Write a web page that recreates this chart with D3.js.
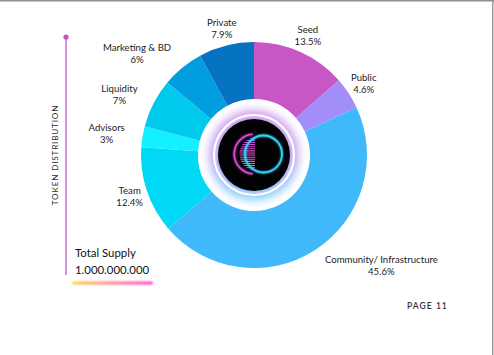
<!DOCTYPE html>
<html><head><meta charset="utf-8">
<script src="https://cdn.jsdelivr.net/npm/d3@7"></script>
<style>html,body{margin:0;padding:0;background:#fff;}svg{display:block;}</style>
</head><body>
<script>
// ---- data ----
const categories = ["Seed","Public","Community/ Infrastructure","Team","Advisors","Liquidity","Marketing & BD","Private"];
const values = [13.5, 4.6, 45.6, 12.4, 3, 7, 6, 7.9];
const valueLabels = ["13.5%","4.6%","45.6%","12.4%","3%","7%","6%","7.9%"];
const colors = ["#c857c6","#a18ef8","#40b9fa","#00d9f5","#14f0ff","#00c9ee","#009ee0","#0573c2"];
const labelAnchor = ["middle","middle","start","middle","end","end","end","middle"];
const sideTitle = "TOKEN DISTRIBUTION";
const supplyTitle = "Total Supply";
const supplyValue = "1.000.000.000";
const pageLabel = "PAGE 11";

const W = 494, H = 355;
const cx = 254, cy = 155, rOuter = 113, rInner = 56, rLabel = 131;
const font = "Lato, 'Open Sans', sans-serif";

const svg = d3.select("body").append("svg").attr("width", W).attr("height", H);
const defs = svg.append("defs");

svg.append("rect").attr("width", W).attr("height", H).attr("fill", "#fff");
// borders
svg.append("rect").attr("x",0).attr("y",0).attr("width",W).attr("height",1.5).attr("fill","#8b909a");
svg.append("rect").attr("x",492).attr("y",0).attr("width",1.5).attr("height",H).attr("fill","#9a9a9a");

// pie
const pie = d3.pie().sort(null).value(d => d)(values);
const arc = d3.arc().innerRadius(rInner).outerRadius(rOuter);
const labelArc = d3.arc().innerRadius(rLabel).outerRadius(rLabel);
const g = svg.append("g").attr("transform", `translate(${cx},${cy})`);
g.selectAll("path.slice").data(pie).join("path").attr("class","slice")
  .attr("d", arc).attr("fill", (d,i) => colors[i]);

// centre decoration
const glowF = defs.append("filter").attr("id","blur4").attr("x","-50%").attr("y","-50%").attr("width","200%").attr("height","200%");
glowF.append("feGaussianBlur").attr("stdDeviation", 4);
const lg = defs.append("linearGradient").attr("id","glowGrad").attr("x1",0).attr("y1",0).attr("x2",0).attr("y2",1);
lg.append("stop").attr("offset","0%").attr("stop-color","#c98ae8");
lg.append("stop").attr("offset","55%").attr("stop-color","#b79af0");
lg.append("stop").attr("offset","100%").attr("stop-color","#5ccaff");
g.append("circle").attr("r", 45).attr("fill","url(#glowGrad)").attr("filter","url(#blur4)").attr("opacity",0.85);
g.append("circle").attr("r", 40).attr("fill","none").attr("stroke","#ffffff").attr("stroke-width",2.2);
g.append("circle").attr("r", 38.3).attr("fill","none").attr("stroke","#d6c9f4").attr("stroke-width",1);
g.append("circle").attr("r", 36).attr("fill","#020104");

// logo
const neon = defs.append("filter").attr("id","neon").attr("x","-50%").attr("y","-50%").attr("width","200%").attr("height","200%");
neon.append("feGaussianBlur").attr("stdDeviation",1).attr("result","b");
const m = neon.append("feMerge"); m.append("feMergeNode").attr("in","b"); m.append("feMergeNode").attr("in","SourceGraphic");
const stripeGrad = defs.append("linearGradient").attr("id","stripeGrad").attr("gradientUnits","userSpaceOnUse")
  .attr("x1",-16).attr("y1",-16).attr("x2",2).attr("y2",16);
stripeGrad.append("stop").attr("offset","0%").attr("stop-color","#b040d8");
stripeGrad.append("stop").attr("offset","100%").attr("stop-color","#ff5fb8");
const clip = defs.append("clipPath").attr("id","lens");
clip.append("path").attr("d", d3.arc().innerRadius(0).outerRadius(15.5).startAngle(Math.PI).endAngle(2*Math.PI)());
const stripes = g.append("g").attr("transform","translate(1,-1) scale(1,1.05)").attr("clip-path","url(#lens)");
d3.range(-15, 16, 2).forEach(y => {
  stripes.append("line").attr("x1",-16).attr("x2",1).attr("y1",y).attr("y2",y)
    .attr("stroke","url(#stripeGrad)").attr("stroke-width",1);
});
g.append("circle").attr("cx",9.5).attr("cy",-1).attr("r",18.5).attr("fill","none")
  .attr("stroke","#2fd3f6").attr("stroke-width",1.8).attr("filter","url(#neon)");
g.append("path").attr("transform","translate(0,-1)")
  .attr("d", d3.arc().innerRadius(19).outerRadius(20.6).startAngle(Math.PI*1.02).endAngle(Math.PI*1.98)())
  .attr("fill","#e048e0").attr("filter","url(#neon)");

// labels
const lab = svg.append("g").attr("font-family", font).attr("font-size", 9.6).attr("fill", "#1c1c1c");
pie.forEach((d, i) => {
  const [lx, ly] = labelArc.centroid(d);
  const t = lab.append("g");
  const t1 = t.append("text").attr("text-anchor","middle").attr("y",-2.5).text(categories[i]);
  t.append("text").attr("text-anchor","middle").attr("y",9.5).text(valueLabels[i]);
  const w = t1.node().getComputedTextLength();
  let x = cx + lx;
  if (labelAnchor[i] === "end") x -= w / 2;
  if (labelAnchor[i] === "start") x += w / 2;
  t.attr("transform", `translate(${x},${cy + ly})`);
});

// side title & line
svg.append("line").attr("x1",66).attr("x2",66).attr("y1",37).attr("y2",275)
  .attr("stroke","#db8fe0").attr("stroke-width",2);
svg.append("circle").attr("cx",66).attr("cy",37).attr("r",2.6).attr("fill","#c650c8");
svg.append("text").attr("transform","translate(58,155) rotate(-90)")
  .attr("text-anchor","middle").attr("font-family",font).attr("font-size",8.2)
  .attr("letter-spacing",0.8).attr("fill","#2a2a2a").text(sideTitle);

// total supply
svg.append("text").attr("x",75).attr("y",257).attr("font-family",font).attr("font-size",11.4)
  .attr("fill","#111").text(supplyTitle);
svg.append("text").attr("x",75).attr("y",273.5).attr("font-family",font).attr("font-size",11.4)
  .attr("fill","#111").text(supplyValue);
const barGrad = defs.append("linearGradient").attr("id","barGrad");
barGrad.append("stop").attr("offset","0%").attr("stop-color","#ffd23a");
barGrad.append("stop").attr("offset","45%").attr("stop-color","#ff8a8a");
barGrad.append("stop").attr("offset","100%").attr("stop-color","#ff3fd0");
const soft = defs.append("filter").attr("id","soft").attr("x","-10%").attr("y","-200%").attr("width","120%").attr("height","500%");
soft.append("feGaussianBlur").attr("stdDeviation",0.8);
svg.append("rect").attr("x",72).attr("y",281.5).attr("width",81).attr("height",3).attr("rx",1.5)
  .attr("fill","url(#barGrad)").attr("filter","url(#soft)");

// page label
svg.append("text").attr("x",407).attr("y",308.5).attr("font-family",font).attr("font-size",8.6)
  .attr("font-weight",600).attr("letter-spacing",1).attr("fill","#333").text(pageLabel);
</script>
</body></html>
